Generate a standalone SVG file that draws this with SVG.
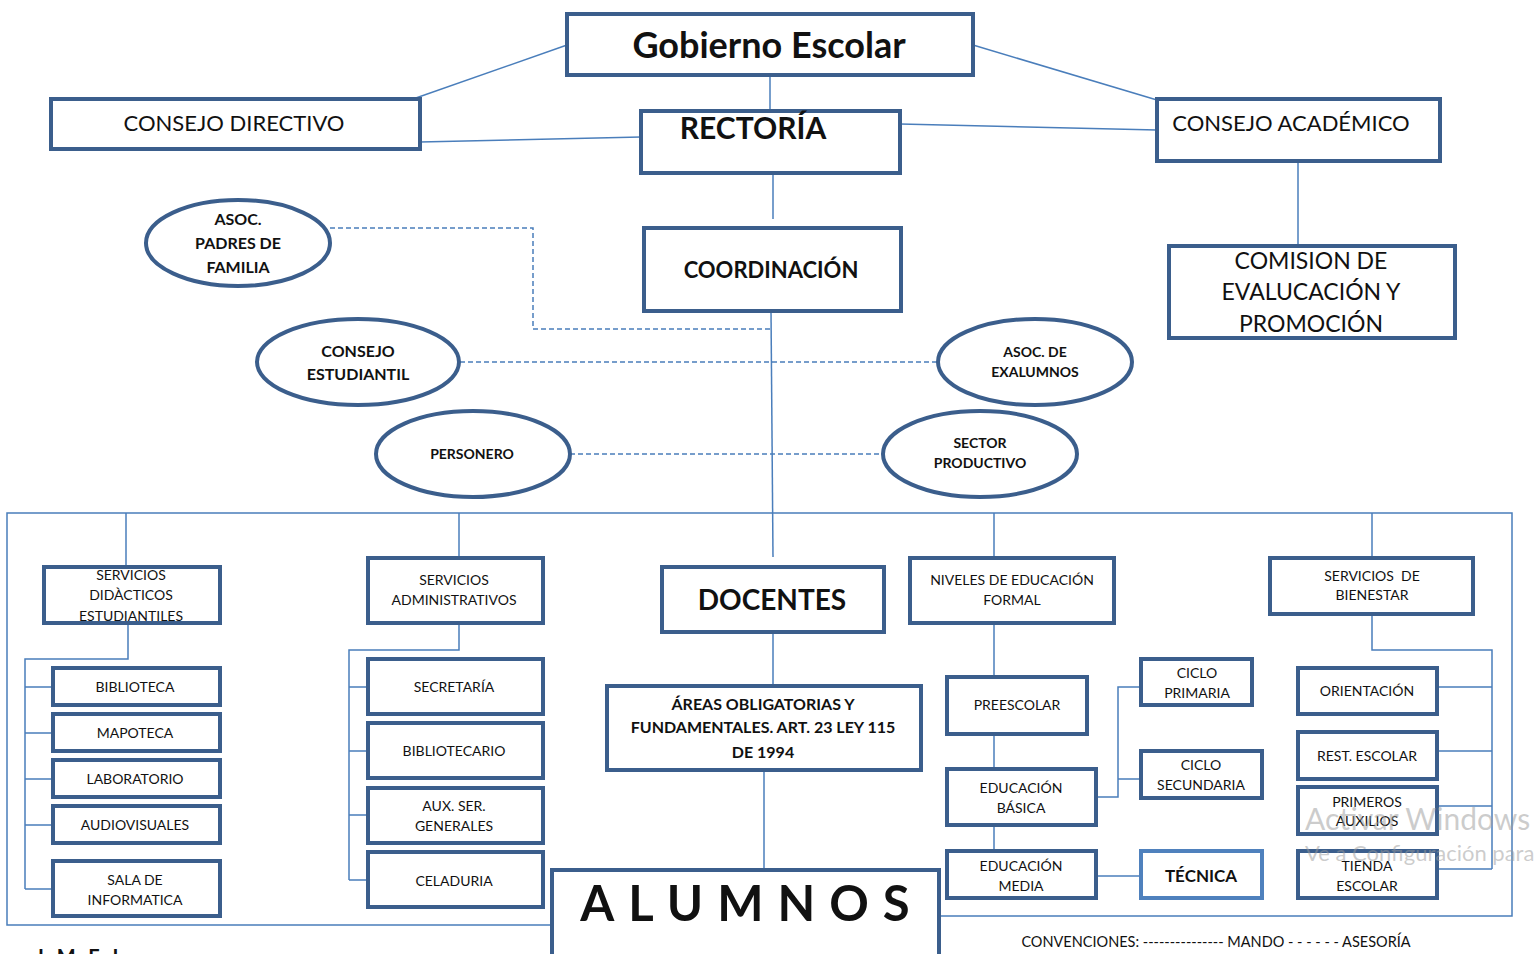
<svg xmlns="http://www.w3.org/2000/svg" width="1535" height="954" viewBox="0 0 1535 954">
<style>
.box{fill:#fff;stroke:#3b5e8c;stroke-width:4}
.box2{fill:#fff;stroke:#4f81bd;stroke-width:4}
.ln{stroke:#4a7ebb;stroke-width:1.5;fill:none}
.dash{stroke:#4a7ebb;stroke-width:1.5;stroke-dasharray:5 3;fill:none}
text{font-family:Lato,"Open Sans","Liberation Sans",sans-serif;fill:#111;text-anchor:middle}
.n{font-size:14px}
.b{font-weight:bold}
.wm{fill:#9a9a9a;fill-opacity:0.5;text-anchor:start}
</style>
<rect width="1535" height="954" fill="#fff"/>
<g id="connectors">
<line class="ln" x1="567" y1="45" x2="413" y2="99"/>
<line class="ln" x1="973" y1="45" x2="1157" y2="100"/>
<line class="ln" x1="770" y1="75" x2="770" y2="111"/>
<line class="ln" x1="420" y1="142" x2="641" y2="137"/>
<line class="ln" x1="900" y1="124" x2="1157" y2="130"/>
<line class="ln" x1="773" y1="173" x2="773" y2="219"/>
<line class="ln" x1="1298" y1="155" x2="1298" y2="246"/>
<line class="ln" x1="771" y1="311" x2="773" y2="557"/>
<path class="dash" d="M330 228 H533 V329 H771"/>
<line class="dash" x1="460" y1="362" x2="938" y2="362"/>
<line class="dash" x1="570" y1="454" x2="883" y2="454"/>
<path class="ln" d="M553 925 H7 V513 H1512 V916 H940"/>
<line class="ln" x1="126" y1="513" x2="126" y2="567"/>
<line class="ln" x1="459" y1="513" x2="459" y2="558"/>
<line class="ln" x1="994" y1="513" x2="994" y2="558"/>
<line class="ln" x1="1372" y1="513" x2="1372" y2="558"/>
<path class="ln" d="M128 623 V659 H25 V889"/>
<path class="ln" d="M25 687 H53 M25 733 H53 M25 779 H53 M25 825 H53 M25 889 H53"/>
<path class="ln" d="M459 623 V650 H349 V880"/>
<path class="ln" d="M349 687 H368 M349 751 H368 M349 815 H368 M349 880 H368"/>
<line class="ln" x1="773" y1="632" x2="773" y2="686"/>
<line class="ln" x1="764" y1="770" x2="764" y2="870"/>
<line class="ln" x1="994" y1="623" x2="994" y2="851"/>
<path class="ln" d="M1096 797 H1118 V687 H1141 M1118 779 H1141"/>
<line class="ln" x1="1096" y1="876" x2="1141" y2="876"/>
<path class="ln" d="M1372 614 V650 H1492 V869"/>
<path class="ln" d="M1437 687 H1492 M1437 751 H1492 M1437 806 H1492 M1437 869 H1492"/>
</g>
<g id="gobierno"><rect class="box" x="567" y="14" width="406" height="61"/><text x="769" y="58" class="b" style="font-size:36px">Gobierno Escolar</text></g>
<g id="consejo-directivo"><rect class="box" x="51" y="99" width="369" height="50"/><text x="234" y="131" style="font-size:22px">CONSEJO DIRECTIVO</text></g>
<g id="rectoria"><rect class="box" x="641" y="111" width="259" height="62"/><text x="753" y="139" class="b" style="font-size:30px">RECTORÍA</text></g>
<g id="consejo-academico"><rect class="box" x="1157" y="99" width="283" height="62"/><text x="1291" y="131" style="font-size:22px">CONSEJO ACADÉMICO</text></g>
<g id="coordinacion"><rect class="box" x="644" y="228" width="257" height="83"/><text x="771" y="278" class="b" style="font-size:22px">COORDINACIÓN</text></g>
<g id="comision"><rect class="box" x="1169" y="246" width="286" height="92"/><text style="font-size:23px"><tspan x="1311" y="269">COMISION DE</tspan><tspan x="1311" y="300">EVALUCACIÓN Y</tspan><tspan x="1311" y="332">PROMOCIÓN</tspan></text></g>
<g id="asoc-padres"><ellipse class="box" cx="238" cy="243" rx="92" ry="43"/><text class="b" style="font-size:16px"><tspan x="238" y="225">ASOC.</tspan><tspan x="238" y="249">PADRES DE</tspan><tspan x="238" y="273">FAMILIA</tspan></text></g>
<g id="consejo-estudiantil"><ellipse class="box" cx="358" cy="362" rx="101" ry="43"/><text class="b" style="font-size:16px"><tspan x="358" y="357">CONSEJO</tspan><tspan x="358" y="380">ESTUDIANTIL</tspan></text></g>
<g id="asoc-exalumnos"><ellipse class="box" cx="1035" cy="362" rx="97" ry="43"/><text class="b" style="font-size:14px"><tspan x="1035" y="357">ASOC. DE</tspan><tspan x="1035" y="377">EXALUMNOS</tspan></text></g>
<g id="personero"><ellipse class="box" cx="473" cy="454" rx="97" ry="43"/><text x="472" y="459" class="b" style="font-size:14px">PERSONERO</text></g>
<g id="sector-productivo"><ellipse class="box" cx="980" cy="454" rx="97" ry="43"/><text class="b" style="font-size:14px"><tspan x="980" y="448">SECTOR</tspan><tspan x="980" y="468">PRODUCTIVO</tspan></text></g>
<g id="serv-didacticos"><rect class="box" x="44" y="567" width="176" height="56"/><text class="n"><tspan x="131" y="580">SERVICIOS</tspan><tspan x="131" y="600">DIDÀCTICOS</tspan><tspan x="131" y="621">ESTUDIANTILES</tspan></text></g>
<g id="biblioteca"><rect class="box" x="53" y="668" width="167" height="37"/><text x="135" y="692" class="n">BIBLIOTECA</text></g>
<g id="mapoteca"><rect class="box" x="53" y="714" width="167" height="37"/><text x="135" y="738" class="n">MAPOTECA</text></g>
<g id="laboratorio"><rect class="box" x="53" y="760" width="167" height="37"/><text x="135" y="784" class="n">LABORATORIO</text></g>
<g id="audiovisuales"><rect class="box" x="53" y="806" width="167" height="37"/><text x="135" y="830" class="n">AUDIOVISUALES</text></g>
<g id="sala-informatica"><rect class="box" x="53" y="861" width="167" height="55"/><text class="n"><tspan x="135" y="885">SALA DE</tspan><tspan x="135" y="905">INFORMATICA</tspan></text></g>
<g id="serv-administrativos"><rect class="box" x="368" y="558" width="175" height="65"/><text class="n"><tspan x="454" y="585">SERVICIOS</tspan><tspan x="454" y="605">ADMINISTRATIVOS</tspan></text></g>
<g id="secretaria"><rect class="box" x="368" y="659" width="175" height="55"/><text x="454" y="692" class="n">SECRETARÍA</text></g>
<g id="bibliotecario"><rect class="box" x="368" y="723" width="175" height="55"/><text x="454" y="756" class="n">BIBLIOTECARIO</text></g>
<g id="aux-ser-generales"><rect class="box" x="368" y="788" width="175" height="55"/><text class="n"><tspan x="454" y="811">AUX. SER.</tspan><tspan x="454" y="831">GENERALES</tspan></text></g>
<g id="celaduria"><rect class="box" x="368" y="852" width="175" height="55"/><text x="454" y="886" class="n">CELADURIA</text></g>
<g id="docentes"><rect class="box" x="662" y="567" width="222" height="65"/><text x="772" y="610" class="b" style="font-size:28px">DOCENTES</text></g>
<g id="areas"><rect class="box" x="607" y="686" width="314" height="84"/><text class="b" style="font-size:16px"><tspan x="763" y="710">ÁREAS OBLIGATORIAS Y</tspan><tspan x="763" y="733">FUNDAMENTALES. ART. 23 LEY 115</tspan><tspan x="763" y="758">DE 1994</tspan></text></g>
<g id="alumnos"><rect class="box" x="552" y="870" width="387" height="100"/><text x="752" y="921" class="b" style="font-size:49px;letter-spacing:14px">ALUMNOS</text></g>
<g id="niveles"><rect class="box" x="910" y="558" width="204" height="65"/><text class="n"><tspan x="1012" y="585">NIVELES DE EDUCACIÓN</tspan><tspan x="1012" y="605">FORMAL</tspan></text></g>
<g id="preescolar"><rect class="box" x="947" y="677" width="140" height="57"/><text x="1017" y="710" class="n">PREESCOLAR</text></g>
<g id="educacion-basica"><rect class="box" x="947" y="769" width="149" height="56"/><text class="n"><tspan x="1021" y="793">EDUCACIÓN</tspan><tspan x="1021" y="813">BÁSICA</tspan></text></g>
<g id="educacion-media"><rect class="box" x="947" y="851" width="149" height="47"/><text class="n"><tspan x="1021" y="871">EDUCACIÓN</tspan><tspan x="1021" y="891">MEDIA</tspan></text></g>
<g id="ciclo-primaria"><rect class="box" x="1141" y="659" width="111" height="46"/><text class="n"><tspan x="1197" y="678">CICLO</tspan><tspan x="1197" y="698">PRIMARIA</tspan></text></g>
<g id="ciclo-secundaria"><rect class="box" x="1141" y="751" width="121" height="47"/><text class="n"><tspan x="1201" y="770">CICLO</tspan><tspan x="1201" y="790">SECUNDARIA</tspan></text></g>
<g id="tecnica"><rect class="box2" x="1141" y="851" width="121" height="47"/><text x="1201" y="882" class="b" style="font-size:17px">TÉCNICA</text></g>
<g id="serv-bienestar"><rect class="box" x="1270" y="558" width="203" height="56"/><text class="n" xml:space="preserve"><tspan x="1372" y="581">SERVICIOS  DE</tspan><tspan x="1372" y="600">BIENESTAR</tspan></text></g>
<g id="orientacion"><rect class="box" x="1298" y="668" width="139" height="46"/><text x="1367" y="696" class="n">ORIENTACIÓN</text></g>
<g id="rest-escolar"><rect class="box" x="1298" y="732" width="139" height="47"/><text x="1367" y="761" class="n">REST. ESCOLAR</text></g>
<g id="primeros-auxilios"><rect class="box" x="1298" y="787" width="139" height="47"/><text class="n"><tspan x="1367" y="807">PRIMEROS</tspan><tspan x="1367" y="826">AUXILIOS</tspan></text></g>
<g id="tienda-escolar"><rect class="box" x="1298" y="851" width="139" height="47"/><text class="n"><tspan x="1367" y="871">TIENDA</tspan><tspan x="1367" y="891">ESCOLAR</tspan></text></g>
<g id="convenciones"><text x="1216" y="947" style="font-size:14.5px">CONVENCIONES: --------------- MANDO  - - - - - -  ASESORÍA</text></g>
<g id="imei"><text x="38" y="964" class="b" style="font-size:20px;text-anchor:start;letter-spacing:4px">I.M.E.I.</text></g>
<g id="watermark"><text x="1305" y="830" class="wm" style="font-size:30px">Activar Windows</text><text x="1305" y="861" class="wm" style="font-size:22px">Ve a Configuración para activar Windows.</text></g>
</svg>
